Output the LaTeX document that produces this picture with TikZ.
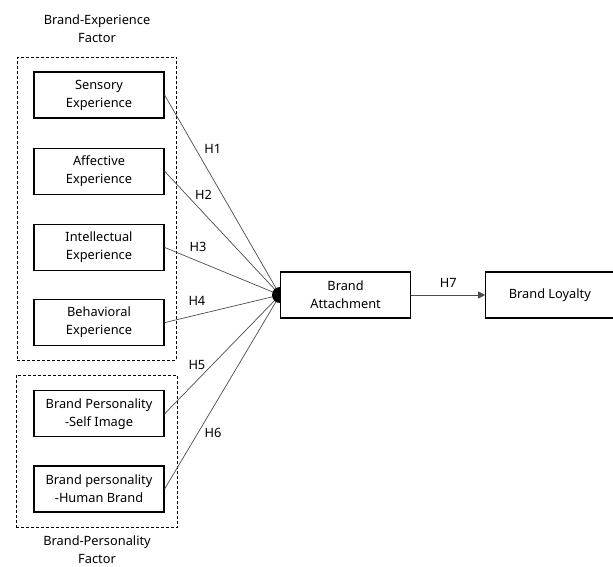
\documentclass[tikz,border=0pt]{standalone}
\usepackage{fontspec}
\setmainfont{Noto Sans}
\usetikzlibrary{arrows.meta,positioning,fit,calc}

\begin{document}
\begin{tikzpicture}[
            x=1pt, y=-1pt,
            font=\fontsize{12.8}{18}\selectfont,
            block/.style={
                draw,
                line width=1.2pt,
                minimum width=130pt,
                minimum height=46pt,
                align=center
            },
            factor/.style={
                draw,
                line width=1.1pt,
                dash pattern=on 3pt off 2pt
            },
            caption/.style={
                align=center
            },
            link/.style={
                draw=black!70,
                line width=0.7pt
            },
            hyp/.style={
                inner sep=0pt
            },
            node distance=29pt
        ]

            \useasboundingbox (0,0) rectangle (613,566);

            % --- Brand experience blocks ---
            \node[block] (Sens) at (99,95) {Sensory\\Experience};
            \node[block, below=of Sens] (Aff) {Affective\\Experience};
            \node[block, below=of Aff] (Int) {Intellectual\\Experience};
            \node[block, below=28pt of Int] (Beh) {Behavioral\\Experience};

            \node[factor, inner sep=14pt, xshift=-2pt, fit=(Sens)(Beh)] (BEfac) {};
            \node[caption, above=11pt of BEfac] (BEtitle) {Brand-Experience\\Factor};

            % --- Brand personality blocks ---
            \node[block, below=44pt of Beh] (Self) {Brand Personality\\-Self Image};
            \node[block, below=28pt of Self] (Human) {Brand personality\\-Human Brand};

            \node[factor, inner sep=15pt, xshift=-2pt, fit=(Self)(Human)] (BPfac) {};
            \node[caption, below=4pt of BPfac] (BPtitle) {Brand-Personality\\Factor};

            % --- Hypotheses H1-H6 ---
            \coordinate (hub) at (280,295);
            \draw[link] (Sens.east) -- node[hyp, pos=0.27, xshift=17pt] (H1) {H1} (hub);
            \draw[link] (Aff.east) -- node[hyp, pos=0.19, xshift=17pt] (H2) {H2} (hub);
            \draw[link] (Int.east) -- node[hyp, pos=0.29, yshift=14pt] (H3) {H3} (hub);
            \draw[link] (Beh.east) -- node[hyp, pos=0.28, yshift=14pt] (H4) {H4} (hub);
            \draw[link] (Self.east) -- node[hyp, pos=0.41, xshift=-15pt] (H5) {H5} (hub);
            \draw[link] (Human.east) -- node[hyp, pos=0.29, xshift=15pt] (H6) {H6} (hub);
            \fill (hub) circle (8pt);

            % --- Outcome blocks ---
            \node[block, fill=white, right=0pt of hub] (Att) {Brand\\Attachment};
            \node[block, minimum width=128pt, right=74pt of Att] (Loy) {Brand Loyalty};

            \draw[link, -{Triangle[length=7pt,width=7pt]}] (Att) -- node[hyp, above=7pt] (H7) {H7} (Loy);
        \end{tikzpicture}
\end{document}
